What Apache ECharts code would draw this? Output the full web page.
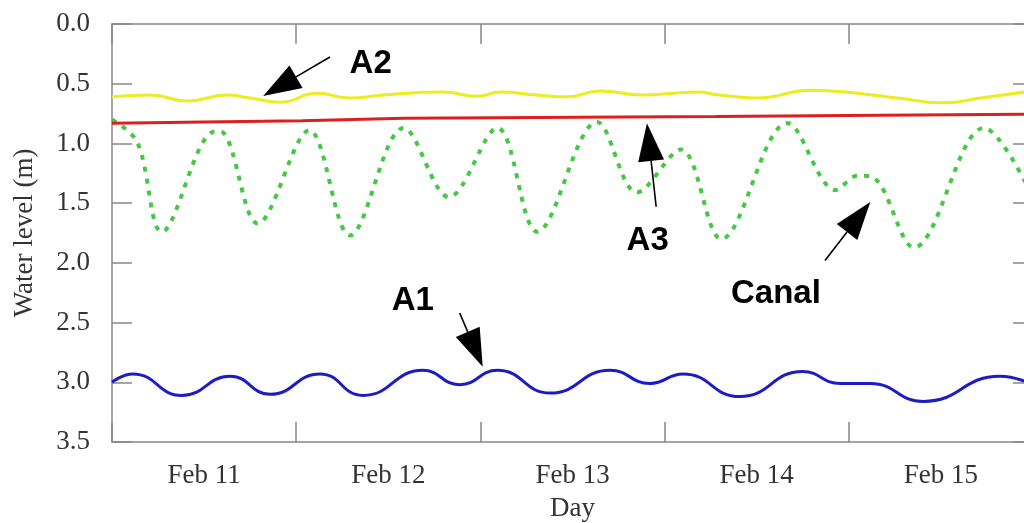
<!DOCTYPE html>
<html>
<head>
<meta charset="utf-8">
<script src="https://cdn.jsdelivr.net/npm/echarts@6/dist/echarts.min.js"></script>
<style>
  html, body { margin: 0; background: #fff; }
  #chart { width: 1024px; height: 523px; }
</style>
</head>
<body>
<div id="chart"></div>
<script>
// Day bands on the x axis; series x values are hours since Feb 11 00:00.
const DAY_LABELS = ["Feb 11", "Feb 12", "Feb 13", "Feb 14", "Feb 15"];

// A2 well (yellow)
const a2Hours = [0, 5, 9.8, 15, 18, 21.9, 26.7, 31, 35.3, 43.1, 47.6, 50.6, 55.4, 59.3, 63.6, 69.2, 73.1, 76.2, 79.2, 84, 91.1, 97.1, 102.3, 108.4, 113.2, 120];
const a2Level = [0.61, 0.595, 0.645, 0.595, 0.62, 0.655, 0.58, 0.62, 0.595, 0.57, 0.605, 0.57, 0.595, 0.61, 0.56, 0.595, 0.58, 0.57, 0.595, 0.62, 0.555, 0.58, 0.62, 0.66, 0.62, 0.56];

// A3 well (red)
const a3Hours = [0, 12, 24.8, 38, 50, 60.6, 78.6, 100, 120];
const a3Level = [0.83, 0.82, 0.81, 0.79, 0.785, 0.78, 0.775, 0.765, 0.755];

// Canal (green dotted)
const canalHours = [0, 3.3, 6.5, 13.4, 14.5, 19, 25.7, 31, 38, 43.9, 50.2, 55.4, 63.2, 68.4, 74.1, 79.4, 88, 94.3, 97.1, 99.3, 104.5, 113.6, 120];
const canalLevel = [0.8, 0.99, 1.74, 0.9, 0.91, 1.67, 0.89, 1.77, 0.87, 1.45, 0.87, 1.74, 0.82, 1.41, 1.05, 1.8, 0.83, 1.39, 1.27, 1.29, 1.87, 0.87, 1.45];

// A1 well (blue)
const a1Hours = [0, 2.7, 9.1, 15.4, 20.6, 27.1, 32.7, 40.5, 45.3, 50.2, 57.1, 64.9, 70.1, 74.4, 81.8, 90, 94.9, 98.8, 105.7, 115.7, 120];
const a1Level = [3.0, 2.93, 3.11, 2.95, 3.1, 2.93, 3.11, 2.9, 3.02, 2.9, 3.09, 2.9, 3.01, 2.93, 3.12, 2.91, 3.01, 3.01, 3.16, 2.95, 3.02];

// Callouts: label centre, arrow tail and arrow tip, all in (hours, level)
const ANNOTATIONS = [
  { text: "A2", at: [33.7, 0.33], from: [28.4, 0.276], to: [19.7, 0.603] },
  { text: "A3", at: [69.8, 1.82], from: [70.9, 1.53], to: [69.7, 0.83] },
  { text: "A1", at: [39.2, 2.32], from: [45.3, 2.42], to: [48.3, 2.87] },
  { text: "Canal", at: [86.5, 2.26], from: [92.9, 1.98], to: [98.8, 1.49] },
];

const SERIF = "Liberation Serif";
const AXIS_GREY = "#888";
const HEAD_LEN = 38, HEAD_HALF = 13;

const zip = (xs, ys) => xs.map((x, i) => [x, ys[i]]);

const chart = echarts.init(document.getElementById("chart"));

const tickStyle = { show: true, inside: true, length: 20, lineStyle: { color: AXIS_GREY, width: 1.5 } };
// onZero off: the inverted y axis would otherwise pull the bottom axis to the top
const axisLine = { show: true, onZero: false, lineStyle: { color: AXIS_GREY, width: 1.5 } };

chart.setOption({
  animation: false,
  // right edge (Feb 16 00:00) sits just past the picture
  grid: { left: 112, right: -9, top: 24, bottom: 81, outerBoundsMode: "none" },
  xAxis: [
    {
      type: "category", data: DAY_LABELS, position: "bottom", boundaryGap: true,
      axisLine, axisTick: { ...tickStyle, interval: 0 },
      axisLabel: { fontFamily: SERIF, fontSize: 27, color: "#333", margin: 20, interval: 0 },
      name: "Day", nameLocation: "middle", nameGap: 53,
      nameTextStyle: { fontFamily: SERIF, fontSize: 27, color: "#333" },
    },
    {
      type: "category", data: DAY_LABELS, position: "top", boundaryGap: true,
      axisLine, axisTick: { ...tickStyle, interval: 0 }, axisLabel: { show: false },
    },
    { type: "value", min: 0, max: 120, show: false, axisLine: { onZero: false } },
  ],
  yAxis: [
    {
      type: "value", inverse: true, min: 0, max: 3.5, interval: 0.5,
      axisLine, axisTick: tickStyle, splitLine: { show: false },
      axisLabel: { fontFamily: SERIF, fontSize: 27, color: "#333", margin: 22, formatter: (v) => v.toFixed(1) },
      name: "Water level (m)", nameLocation: "middle", nameGap: 74,
      nameTextStyle: { fontFamily: SERIF, fontSize: 27, color: "#333" },
    },
    {
      type: "value", inverse: true, min: 0, max: 3.5, interval: 0.5, position: "right",
      axisLine, axisTick: tickStyle,
      axisLabel: { show: false }, splitLine: { show: false },
    },
  ],
  series: [
    {
      name: "A2", type: "line", xAxisIndex: 2, yAxisIndex: 0, showSymbol: false, smooth: 0.5,
      lineStyle: { color: "#ecec1e", width: 3 }, data: zip(a2Hours, a2Level),
    },
    {
      name: "Canal", type: "line", xAxisIndex: 2, yAxisIndex: 0, showSymbol: false, smooth: 0.35,
      lineStyle: { color: "#46c846", width: 4, type: [5, 7] }, data: zip(canalHours, canalLevel),
    },
    {
      name: "A3", type: "line", xAxisIndex: 2, yAxisIndex: 0, showSymbol: false,
      lineStyle: { color: "#dc2020", width: 3 }, data: zip(a3Hours, a3Level),
    },
    {
      name: "A1", type: "line", xAxisIndex: 2, yAxisIndex: 0, showSymbol: false, smooth: 0.5,
      lineStyle: { color: "#1c1cc4", width: 3 }, data: zip(a1Hours, a1Level),
    },
  ],
});

// Arrows and labels, placed through the chart's own scales.
const px = (p) => chart.convertToPixel({ seriesIndex: 0 }, p);
const elements = [];
ANNOTATIONS.forEach((a) => {
  const [x1, y1] = px(a.from);
  const [x2, y2] = px(a.to);
  const len = Math.hypot(x2 - x1, y2 - y1);
  const ux = (x2 - x1) / len, uy = (y2 - y1) / len;
  const bx = x2 - ux * HEAD_LEN, by = y2 - uy * HEAD_LEN;
  elements.push({
    type: "line", z: 10,
    shape: { x1, y1, x2: bx, y2: by },
    style: { stroke: "#000", lineWidth: 1.6 },
  });
  elements.push({
    type: "polygon", z: 10,
    shape: { points: [[x2, y2], [bx - uy * HEAD_HALF, by + ux * HEAD_HALF], [bx + uy * HEAD_HALF, by - ux * HEAD_HALF]] },
    style: { fill: "#000" },
  });
});
ANNOTATIONS.forEach((a) => {
  const [x, y] = px(a.at);
  elements.push({
    type: "text", z: 11, x, y,
    style: {
      text: a.text, font: 'bold 33px "Liberation Sans"', fill: "#000",
      align: "center", verticalAlign: "middle",
      backgroundColor: "#fff", padding: [10, 18, 12, 18],
    },
  });
});
chart.setOption({ graphic: elements });
</script>
</body>
</html>
